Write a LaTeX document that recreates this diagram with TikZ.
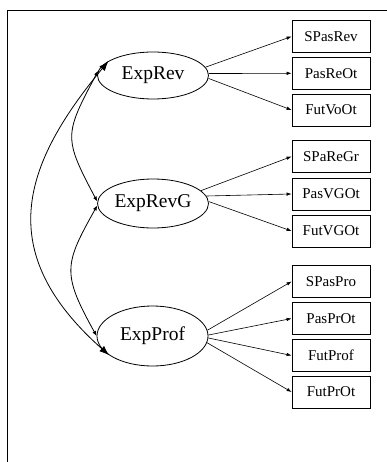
\documentclass[tikz,border=0pt]{standalone}
\usepackage{fontspec}
\setmainfont{Liberation Serif}
\usetikzlibrary{arrows.meta,shapes.geometric}
\begin{document}
\begin{tikzpicture}[x=1pt,y=-1pt,
  latent/.style={ellipse,draw,line width=0.8pt,minimum width=111pt,inner sep=0pt,font=\fontsize{19.5}{22}\selectfont},
  obs/.style={rectangle,draw,line width=0.8pt,minimum width=78pt,minimum height=32pt,inner sep=0pt,font=\fontsize{15}{17}\selectfont},
  load/.style={line width=0.6pt,-{Latex[length=5pt,width=3.5pt]}},
  cov/.style={line width=0.8pt,{Latex[length=5pt,width=4pt]}-{Latex[length=5pt,width=4pt]}},
  covbig/.style={line width=0.8pt,{Latex[length=10pt,width=7pt]}-{Latex[length=10pt,width=7pt]}},
  frameline/.style={line width=1.6pt}]
\useasboundingbox (0,0) rectangle (387,462);
\draw[frameline] (7.5,462) -- (7.5,10.5) -- (387,10.5);

\node[latent,minimum height=47pt] (ER) at (153,75.5) {ExpRev};
\node[latent,minimum height=49pt] (ERG) at (153,203.5) {ExpRevG};
\node[latent,minimum height=60pt] (EP) at (152.5,336) {ExpProf};

\node[obs] (b1) at (331,36.5) {SPasRev};
\node[obs] (b2) at (331,73.3) {PasReOt};
\node[obs] (b3) at (331,110) {FutVoOt};
\node[obs] (b4) at (331,156.5) {SPaReGr};
\node[obs] (b5) at (331,194) {PasVGOt};
\node[obs] (b6) at (331,231) {FutVGOt};
\node[obs] (b7) at (331,281.5) {SPasPro};
\node[obs] (b8) at (331,318.5) {PasPrOt};
\node[obs] (b9) at (331,355.5) {FutProf};
\node[obs] (b10) at (331,392) {FutPrOt};

\draw[load] (ER.9) -- (b1.west);
\draw[load] (ER.2) -- (b2.west);
\draw[load] (ER.-3) -- (b3.west);
\draw[load] (ERG.15) -- (b4.west);
\draw[load] (ERG.8) -- (b5.west);
\draw[load] (ERG.2) -- (b6.west);
\draw[load] (EP.6) -- (b7.west);
\draw[load] (EP.1) -- (b8.west);
\draw[load] (EP.-2) -- (b9.west);
\draw[load] (EP.-7) -- (b10.west);

\draw[cov] (ER.175) .. controls +(-34,64) and +(-34,-64) .. (ERG.178);
\draw[cov] (ERG.182) .. controls +(-33,59) and +(-35,-63) .. (EP.180);
\draw[covbig] (ER.162) .. controls +(-88,106) and +(-115,-102) .. (EP.204);
\end{tikzpicture}
\end{document}
